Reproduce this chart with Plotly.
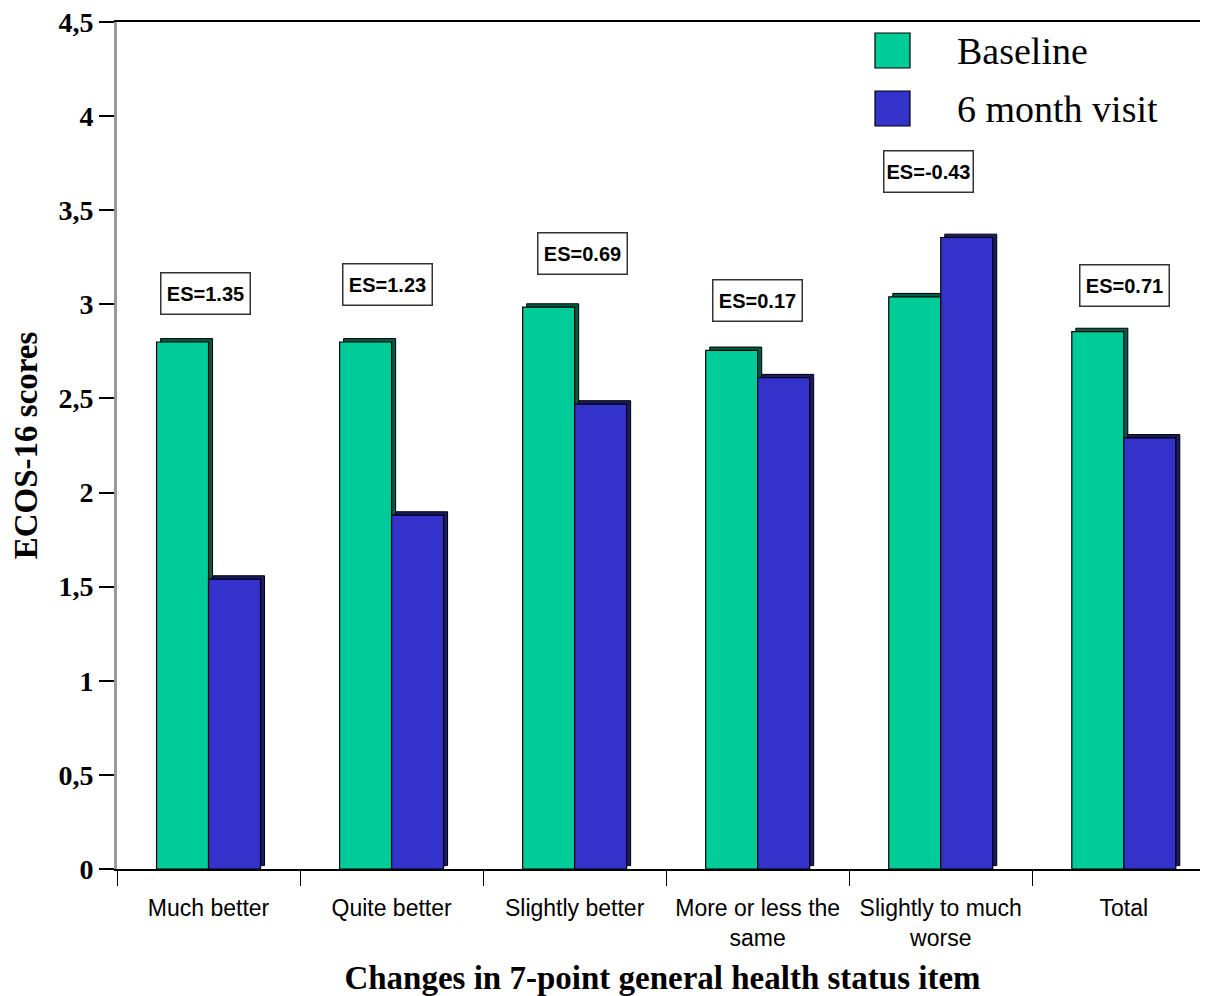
import plotly.graph_objects as go

# ---- data ----
categories = ["Much better", "Quite better", "Slightly better",
              "More or less the<br>same", "Slightly to much<br>worse", "Total"]
series_names = ["Baseline", "6 month visit"]
baseline = [2.80, 2.80, 2.985, 2.755, 3.04, 2.855]
six_month = [1.54, 1.88, 2.47, 2.61, 3.355, 2.29]
es_labels = ["ES=1.35", "ES=1.23", "ES=0.69", "ES=0.17", "ES=-0.43", "ES=0.71"]
y_tickvals = [0, 0.5, 1, 1.5, 2, 2.5, 3, 3.5, 4, 4.5]
y_ticktext = ["0", "0,5", "1", "1,5", "2", "2,5", "3", "3,5", "4", "4,5"]

# ---- styles ----
colors = ["#00CC99", "#3333CC"]
shadow_colors = ["#005C44", "#1A1A66"]
OFF = 8                      # page body margin
W, H = 1208 - OFF, 996 - OFF
L, R, T, B = 117 - OFF, 0, 22 - OFF, 996 - 869
bw = 0.284        # bar width in category units
sh = 0.022        # shadow horizontal shift
sb = 0.018        # shadow vertical shift (data units)

fig = go.Figure()
series = [baseline, six_month]
offsets = [-bw, 0.0]
for i, vals in enumerate(series):
    # depth/shadow
    fig.add_trace(go.Bar(
        x=categories, y=vals, base=sb, offset=offsets[i] + sh, width=bw,
        marker=dict(color=shadow_colors[i], line=dict(color="#000000", width=1)),
        showlegend=False, hoverinfo="skip"))
    fig.add_trace(go.Bar(
        x=categories, y=vals, offset=offsets[i], width=bw, name=series_names[i],
        marker=dict(color=colors[i], line=dict(color="#000000", width=1.2)),
        showlegend=False))

# ES annotations
es_y = [3.059, 3.106, 3.268, 3.021, 3.707, 3.101]
es_xshift = [-3, -4, 8, 0, -12, 1]
for i, lab in enumerate(es_labels):
    fig.add_annotation(
        x=categories[i], y=es_y[i], xref="x", yref="y", text="<b>" + lab + "</b>",
        showarrow=False, xshift=es_xshift[i],
        font=dict(family="Arial, Liberation Sans", size=20, color="#000000"),
        bgcolor="#FFFFFF", bordercolor="#333333", borderwidth=1.5, borderpad=1,
        width=86, height=38, align="center", valign="middle")

# manual legend (positions given in screen pixels)
def px_x(p):
    return (p - OFF - L) / (W - L - R)

def px_y(p):
    return (H - B - (p - OFF)) / (H - B - T)

sq_tops = [33, 91]
for i, name in enumerate(series_names):
    fig.add_shape(type="rect", xref="paper", yref="paper",
                  x0=px_x(875), x1=px_x(910), y0=px_y(sq_tops[i] + 35), y1=px_y(sq_tops[i]),
                  fillcolor=colors[i], line=dict(color="#000000", width=1.2))
    fig.add_annotation(x=px_x(955), y=px_y(sq_tops[i] + 17.5), xref="paper", yref="paper",
                       text=name, showarrow=False, xanchor="left", yanchor="middle",
                       font=dict(family="Liberation Serif, Times New Roman", size=38,
                                 color="#000000"))

fig.update_layout(
    width=W, height=H,
    margin=dict(l=L, r=R, t=T, b=B, autoexpand=False),
    paper_bgcolor="#FFFFFF", plot_bgcolor="#FFFFFF",
    barmode="overlay",
    showlegend=False,
    xaxis=dict(
        range=[-0.5, 5.46], showgrid=False, zeroline=False, automargin=False,
        showline=True, linecolor="#000000", linewidth=2, mirror=True,
        ticks="outside", tickson="boundaries", ticklen=15, tickcolor="#000000", tickwidth=1,
        ticklabelstandoff=17,
        tickfont=dict(family="Arial, Liberation Sans", size=23, color="#000000"),
        title=dict(text="<b>Changes in 7-point general health status item</b>",
                   font=dict(family="Liberation Serif, Times New Roman", size=33,
                             color="#000000"),
                   standoff=18),
    ),
    yaxis=dict(
        range=[0, 4.5], showgrid=False, zeroline=False, automargin=False,
        showline=True, linecolor="#999999", linewidth=3,
        tickvals=y_tickvals, ticktext=["<b>" + t + "</b>" for t in y_ticktext],
        ticklabeloverflow="allow",
        ticks="outside", ticklen=15, tickcolor="#000000", tickwidth=1.5,
        tickfont=dict(family="Liberation Serif, Times New Roman", size=28, color="#000000"),
        title=dict(text="<b>ECOS-16 scores</b>",
                   font=dict(family="Liberation Serif, Times New Roman", size=33,
                             color="#000000"),
                   standoff=22),
    ),
)

fig.write_html("out.html")
